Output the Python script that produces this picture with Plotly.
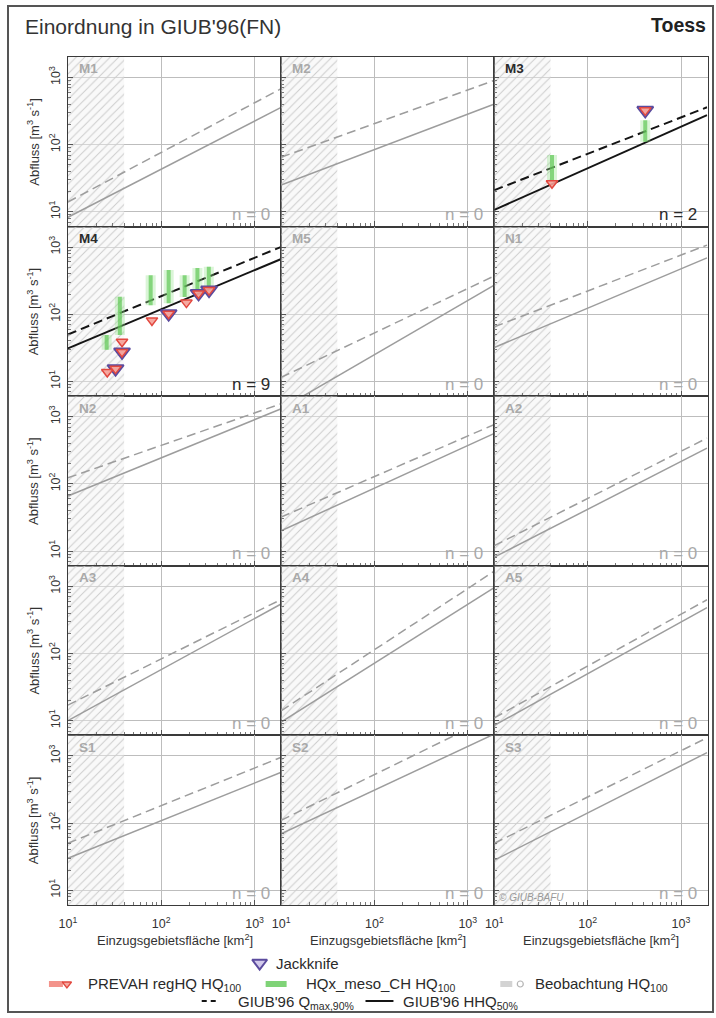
import plotly.graph_objects as go

W, H = 716, 1018

# ---------------------------------------------------------------- data
regions = ["M1", "M2", "M3", "M4", "M5", "N1", "N2", "A1", "A2",
           "A3", "A4", "A5", "S1", "S2", "S3"]
sample_counts = [0, 0, 2, 9, 0, 0, 0, 0, 0, 0, 0, 0, 0, 0, 0]

# GIUB'96 envelope curves, discharge [m3/s] at both ends of the area axis
curve_area = [10, 1900]
hhq50_left = [8.3, 25, 10.7, 31, 3.9, 32, 66, 20, 8.1, 10, 9.5, 8.5, 30, 69, 28]
hhq50_right = [355, 400, 275, 660, 270, 690, 1300, 560, 340, 540, 945, 480, 565, 2100, 1120]
qmax90_left = [14, 65, 21, 50, 11.5, 65, 123, 32, 12, 17, 14, 11, 50, 110, 50]
qmax90_right = [675, 900, 360, 1000, 370, 1070, 1550, 760, 480, 630, 1660, 630, 945, 3900, 1860]

# catchments smaller than this are outside the GIUB'96 validity range
hatch_limit_km2 = 40

# region M3 stations
m3_area = [41.5, 414]
m3_prevah = [26.6, 324]
m3_jack_area = [414]
m3_jack = [324]
m3_meso_area = [41.5, 414]
m3_meso_low = [29, 110]
m3_meso_high = [70, 230]

# region M4 stations
m4_area = [26.4, 32.4, 38, 38, 79.5, 120, 186, 251, 325]
m4_prevah = [13.8, 15.5, 27.5, 39, 81, 102, 149, 204, 229]
m4_jack_area = [32.4, 38, 120, 251, 325]
m4_jack = [15.5, 27.5, 102, 204, 229]
m4_meso_area = [26, 36, 77, 120, 178, 244, 323]
m4_meso_low = [29.5, 49, 136, 146, 180, 213, 245]
m4_meso_high = [49, 182, 382, 455, 382, 488, 510]

stations = {
    2: (m3_area, m3_prevah, m3_jack_area, m3_jack, m3_meso_area, m3_meso_low, m3_meso_high),
    3: (m4_area, m4_prevah, m4_jack_area, m4_jack, m4_meso_area, m4_meso_low, m4_meso_high),
}

tick_vals = [10, 100, 1000]
tick_text = ["10<sup>1</sup>", "10<sup>2</sup>", "10<sup>3</sup>"]
minor_vals = [m * d for d in (1, 10, 100, 1000) for m in range(2, 10)]

# ---------------------------------------------------------------- layout grid (pixels)
x_edges = [67, 280.5, 494, 707.5]
y_edges = [57, 226.6, 396.2, 565.8, 735.4, 905]
X_RANGE = [1, 3.284]
Y_RANGE = [0.78, 3.305]

FONT = "Liberation Sans, Arial, sans-serif"
GRAY_TXT = "#a9a9a9"
DARK_TXT = "#2a2a2a"

# horizontal page offset of the rendered figure
X_OFF = 8


def px(x):
    return (x - X_OFF) / (W - X_OFF)


def py(y):
    return 1 - y / H


fig = go.Figure()
layout = {}
annotations = []

for i, reg in enumerate(regions):
    r, c = divmod(i, 3)
    k = i + 1
    sfx = "" if k == 1 else str(k)
    xa, ya = "x" + sfx, "y" + sfx
    active = sample_counts[i] > 0
    col = "#151515" if active else "#9d9d9d"
    lw = 2.0 if active else 1.5

    # hatched area: catchments below the validity limit
    fig.add_trace(go.Scatter(
        x=[10, hatch_limit_km2, hatch_limit_km2, 10, 10],
        y=[1, 1, 1e4, 1e4, 1],
        mode="lines", fill="toself",
        line=dict(width=0, color="rgba(0,0,0,0)"),
        fillcolor="rgba(0,0,0,0)",
        fillpattern=dict(shape="/", fgcolor="#cbcbcb", bgcolor="rgba(242,242,242,0.45)",
                         size=6, solidity=0.16, fillmode="replace"),
        xaxis=xa, yaxis=ya, hoverinfo="skip", showlegend=False))

    # GIUB'96 Qmax,90% (dashed) and HHQ50% (solid)
    fig.add_trace(go.Scatter(
        x=curve_area, y=[qmax90_left[i], qmax90_right[i]], mode="lines",
        line=dict(color=col, width=lw, dash="9px,5px"),
        xaxis=xa, yaxis=ya, hoverinfo="skip", showlegend=False))
    fig.add_trace(go.Scatter(
        x=curve_area, y=[hhq50_left[i], hhq50_right[i]], mode="lines",
        line=dict(color=col, width=lw),
        xaxis=xa, yaxis=ya, hoverinfo="skip", showlegend=False))

    if i in stations:
        area, prevah, j_area, jack, m_area, m_lo, m_hi = stations[i]
        for a, lo, hi in zip(m_area, m_lo, m_hi):
            fig.add_trace(go.Scatter(
                x=[a, a], y=[lo, hi], mode="lines",
                line=dict(color="rgba(150,225,140,0.35)", width=10),
                xaxis=xa, yaxis=ya, hoverinfo="skip", showlegend=False))
            fig.add_trace(go.Scatter(
                x=[a, a], y=[lo, hi], mode="lines",
                line=dict(color="rgba(95,200,85,0.7)", width=4),
                xaxis=xa, yaxis=ya, hoverinfo="skip", showlegend=False))
        fig.add_trace(go.Scatter(
            x=j_area, y=jack, mode="markers",
            marker=dict(symbol="triangle-down", size=14, color="rgba(165,150,215,0.45)",
                        line=dict(color="#5b4b9e", width=2)),
            xaxis=xa, yaxis=ya, hoverinfo="skip", showlegend=False))
        fig.add_trace(go.Scatter(
            x=area, y=prevah, mode="markers",
            marker=dict(symbol="triangle-down", size=10, color="rgba(245,160,150,0.9)",
                        line=dict(color="#e2483f", width=1.5)),
            xaxis=xa, yaxis=ya, hoverinfo="skip", showlegend=False))

    axis_common = dict(
        type="log", showline=True, mirror=True, linecolor="#3a3a3a", linewidth=1.3,
        showgrid=True, gridcolor="#bdbdbd", gridwidth=1.4, zeroline=False,
        tickmode="array", tickvals=tick_vals, ticktext=tick_text,
        ticks="inside", ticklen=5, tickcolor="#555", tickwidth=1,
        minor=dict(tickmode="array", tickvals=minor_vals, ticks="inside", ticklen=3,
                   tickcolor="#777", tickwidth=1, showgrid=False),
        tickfont=dict(family=FONT, size=12.5, color="#333"),
        fixedrange=True,
    )
    layout["xaxis" + sfx] = dict(
        axis_common, range=X_RANGE,
        domain=[px(x_edges[c]), px(x_edges[c + 1])], anchor=ya,
        showticklabels=(r == 4), ticklabelstandoff=7)
    layout["yaxis" + sfx] = dict(
        axis_common, range=Y_RANGE,
        domain=[py(y_edges[r + 1]), py(y_edges[r])], anchor=xa,
        showticklabels=(c == 0), tickangle=-90, ticklabelstandoff=2)

    # region name and sample count
    annotations.append(dict(
        x=px(x_edges[c] + 9), y=py(y_edges[r] + 12), xref="paper", yref="paper",
        text="<b>%s</b>" % reg, showarrow=False, xanchor="left", yanchor="middle",
        font=dict(family=FONT, size=13.5, color=DARK_TXT if active else GRAY_TXT)))
    annotations.append(dict(
        x=px(x_edges[c + 1] - 9), y=py(y_edges[r + 1] - 12), xref="paper", yref="paper",
        text="n = %d" % sample_counts[i], showarrow=False, xanchor="right", yanchor="middle",
        font=dict(family=FONT, size=17, color=DARK_TXT if active else GRAY_TXT)))

    if c == 0:
        annotations.append(dict(
            x=px(32), y=py((y_edges[r] + y_edges[r + 1]) / 2), xref="paper", yref="paper",
            text="Abfluss [m<sup>3</sup> s<sup>-1</sup>]", showarrow=False, textangle=-90,
            xanchor="center", yanchor="middle",
            font=dict(family=FONT, size=13, color="#333")))
    if r == 4:
        annotations.append(dict(
            x=px((x_edges[c] + x_edges[c + 1]) / 2), y=py(940), xref="paper", yref="paper",
            text="Einzugsgebietsfläche [km<sup>2</sup>]", showarrow=False,
            xanchor="center", yanchor="middle",
            font=dict(family=FONT, size=13, color="#333")))

# copyright note
annotations.append(dict(
    x=px(497), y=py(897), xref="paper", yref="paper", text="<i>© GIUB-BAFU</i>",
    showarrow=False, xanchor="left", yanchor="middle",
    font=dict(family=FONT, size=10, color="#9a9a9a")))

# headline
annotations.append(dict(
    x=px(22), y=py(26), xref="paper", yref="paper", text="Einordnung in GIUB'96(FN)",
    showarrow=False, xanchor="left", yanchor="middle",
    font=dict(family=FONT, size=21, color="#333")))
annotations.append(dict(
    x=px(708), y=py(25), xref="paper", yref="paper", text="<b>Toess</b>",
    showarrow=False, xanchor="right", yanchor="middle",
    font=dict(family=FONT, size=19.5, color="#222")))

# ---------------------------------------------------------------- legend (pixel overlay axis)
LEG = 16
LEG_TOP, LEG_BOT = 950, 1010
layout["xaxis%d" % LEG] = dict(domain=[0, 1], range=[X_OFF, W], visible=False, fixedrange=True,
                               anchor="y%d" % LEG)
layout["yaxis%d" % LEG] = dict(domain=[py(LEG_BOT), py(LEG_TOP)], range=[LEG_BOT, LEG_TOP],
                               visible=False, fixedrange=True, anchor="x%d" % LEG)
lx, ly = "x%d" % LEG, "y%d" % LEG


def leg_trace(**kw):
    fig.add_trace(go.Scatter(xaxis=lx, yaxis=ly, hoverinfo="skip", showlegend=False,
                             cliponaxis=False, **kw))


leg_trace(x=[259], y=[963], mode="markers",
          marker=dict(symbol="triangle-down", size=13, color="rgba(165,150,215,0.5)",
                      line=dict(color="#5b4b9e", width=2)))
leg_trace(x=[48, 62], y=[984, 984], mode="lines", line=dict(color="rgba(240,120,110,0.8)", width=6))
leg_trace(x=[66], y=[984], mode="markers",
          marker=dict(symbol="triangle-down", size=8, color="rgba(245,160,150,0.9)",
                      line=dict(color="#e2483f", width=1.3)))
leg_trace(x=[265, 286], y=[984, 984], mode="lines", line=dict(color="rgba(95,200,85,0.8)", width=6))
leg_trace(x=[500, 512], y=[984, 984], mode="lines", line=dict(color="rgba(200,200,200,0.8)", width=6))
leg_trace(x=[520], y=[984], mode="markers",
          marker=dict(symbol="circle-open", size=6, color="#b5b5b5", line=dict(width=1.2)))
leg_trace(x=[201, 217], y=[1001, 1001], mode="lines", line=dict(color="#151515", width=2, dash="5px,4px"))
leg_trace(x=[365, 393], y=[1001, 1001], mode="lines", line=dict(color="#151515", width=2))

for x, y, t in [(273, 963, "Jackknife"),
                (85, 984, "PREVAH regHQ HQ<sub>100</sub>"),
                (303, 984, "HQx_meso_CH HQ<sub>100</sub>"),
                (533, 984, "Beobachtung HQ<sub>100</sub>"),
                (235, 1002, "GIUB'96 Q<sub>max,90%</sub>"),
                (401, 1002, "GIUB'96 HHQ<sub>50%</sub>")]:
    annotations.append(dict(
        x=px(x), y=py(y), xref="paper", yref="paper", text=t, showarrow=False,
        xanchor="left", yanchor="middle", font=dict(family=FONT, size=15, color="#2a2a2a")))

# outer frame
shapes = [dict(type="rect", xref="paper", yref="paper",
               x0=px(7), x1=px(713), y0=py(1012), y1=py(6),
               line=dict(color="#555", width=2), fillcolor="rgba(0,0,0,0)", layer="above")]

fig.update_layout(
    width=W, height=H, margin=dict(l=0, r=0, t=0, b=0),
    paper_bgcolor="white", plot_bgcolor="rgba(0,0,0,0)",
    showlegend=False, annotations=annotations, shapes=shapes,
    **layout,
)

fig.write_html("out.html", config=dict(displayModeBar=False))
